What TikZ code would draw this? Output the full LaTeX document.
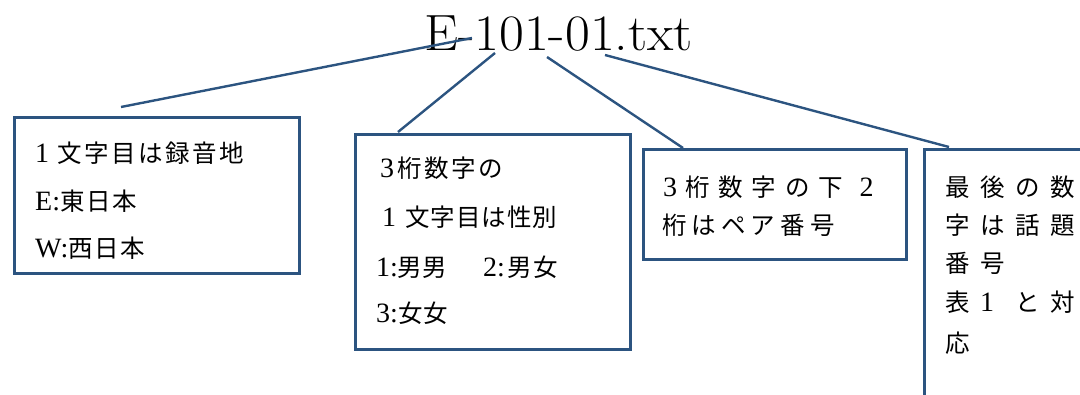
\documentclass[tikz,border=0pt]{standalone}
\usepackage{fontspec}
\newfontfamily\cjkfam{Noto Sans CJK JP}
\newfontfamily\latfam{Liberation Serif}
\definecolor{lineblue}{RGB}{44,84,128}
\newcommand\lat{\latfam\fontsize{28pt}{30pt}\selectfont}
\newcommand\cj{\cjkfam\fontsize{24.5pt}{28pt}\selectfont}
\makeatletter
\newcommand\pitched[2]{\@tfor\pc:=#2\do{\makebox[#1][l]{\pc}}}
\makeatother
\begin{document}
\begin{tikzpicture}[x=1pt,y=-1pt,
  box/.style={draw=lineblue,line width=2.7pt,anchor=north west,inner sep=0pt},
  txt/.style={anchor=base west,inner sep=0pt,text=black},
  conn/.style={draw=lineblue,line width=2.4pt}]
\useasboundingbox (0,0) rectangle (1080,394);
\clip (0,0) rectangle (1080,394);
% title
\node[anchor=base west,inner sep=0pt,font=\fontsize{51pt}{53pt}\selectfont] (title) at (424,50) {\scalebox{1.06}[1]{E-101-01.txt}};
% boxes
\node[box,minimum width=285pt,minimum height=156pt] (b1) at (13,116) {};
\node[box,minimum width=275pt,minimum height=215pt] (b2) at (354,133) {};
\node[box,minimum width=263pt,minimum height=110pt] (b3) at (642,148) {};
\node[box,minimum width=250pt,minimum height=300pt] (b4) at (923,148) {};
% box 1 text
\node[txt] (b1l1) at (35,162) {\makebox[22pt][l]{\lat 1}{\cj\pitched{27pt}{文字目は録音地}}};
\node[txt] (b1l2) at (35,210) {{\lat E:}{\cj\pitched{26pt}{東日本}}};
\node[txt] (b1l3) at (35,257) {{\lat W:}{\cj\pitched{26pt}{西日本}}};
% box 2 text
\node[txt] (b2l1) at (380,177) {\makebox[17pt][l]{\lat 3}{\cj\pitched{27pt}{桁数字の}}};
\node[txt] (b2l2) at (382,226) {\makebox[23pt][l]{\lat 1}{\cj\pitched{25.5pt}{文字目は性別}}};
\node[txt] (b2l3) at (376,276) {\makebox[21pt][l]{\lat 1:}{\cj\pitched{25pt}{男男}}\hspace{36pt}\makebox[24pt][l]{\lat 2:}{\cj\pitched{26pt}{男女}}};
\node[txt] (b2l4) at (376,322) {\makebox[22pt][l]{\lat 3:}{\cj\pitched{25pt}{女女}}};
% box 3 text
\node[txt] (b3l1) at (663,196) {\makebox[22pt][l]{\lat 3}{\cj\pitched{33.3pt}{桁数字の下}}\hspace{8pt}{\lat 2}};
\node[txt] (b3l2) at (662,234) {{\cj\pitched{29.6pt}{桁はペア番号}}};
% box 4 text
\node[txt] (b4l1) at (945,196) {{\cj\pitched{35pt}{最後の数}}};
\node[txt] (b4l2) at (945,234) {{\cj\pitched{35pt}{字は話題}}};
\node[txt] (b4l3) at (945,272) {{\cj\pitched{35pt}{番号}}};
\node[txt] (b4l4) at (945,311) {{\cj\pitched{35pt}{表{\lat 1}と対}}};
\node[txt] (b4l5) at (945,352) {{\cj\pitched{35pt}{応}}};
% connectors
\coordinate (t1) at (472,38);  \coordinate (e1) at (121,107);
\coordinate (t2) at (495,53);  \coordinate (e2) at (398,132);
\coordinate (t3) at (547,57);  \coordinate (e3) at (683,148);
\coordinate (t4) at (605,55);  \coordinate (e4) at (949,147);
\draw[conn] (t1) -- (e1);
\draw[conn] (t2) -- (e2);
\draw[conn] (t3) -- (e3);
\draw[conn] (t4) -- (e4);
\end{tikzpicture}
\end{document}
